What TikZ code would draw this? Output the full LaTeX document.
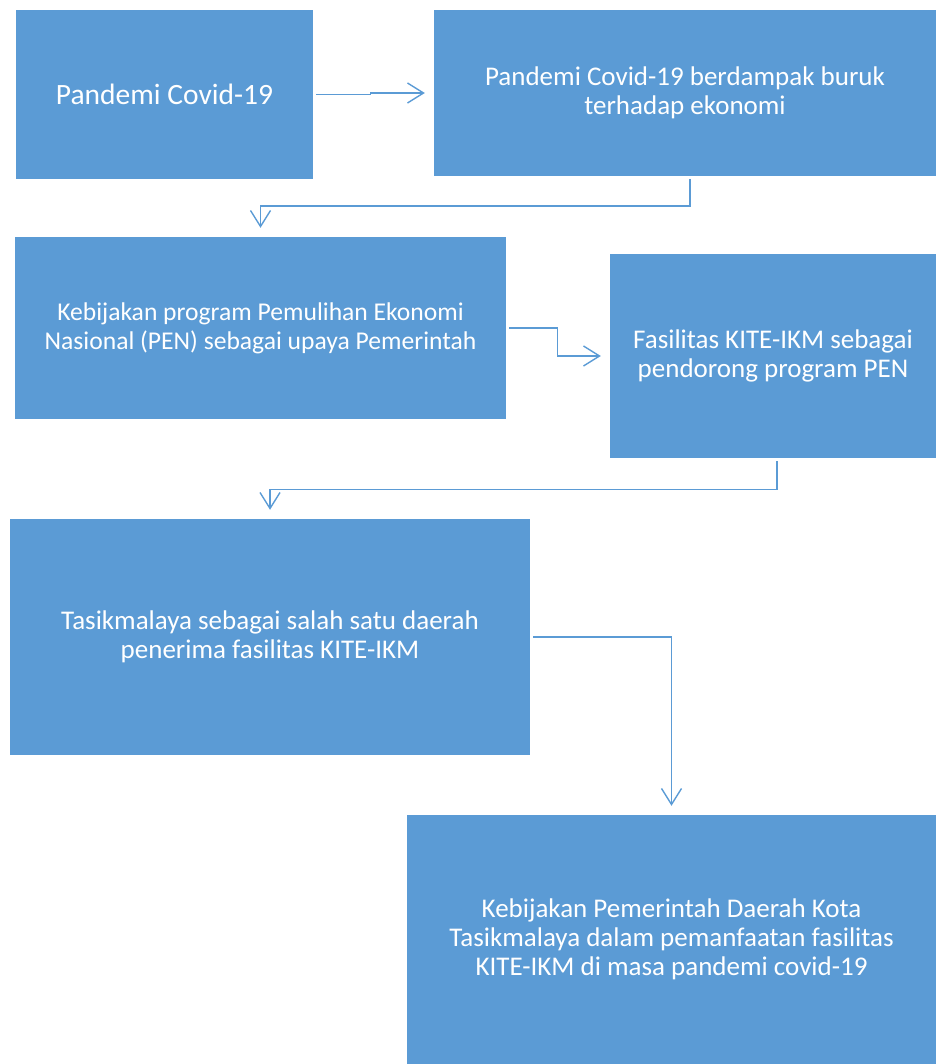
\documentclass[tikz,border=0pt]{standalone}
\usepackage{fontspec}
\setmainfont{Carlito}
\usepackage{xcolor}
\usepackage{tikz}
\usetikzlibrary{arrows.meta,positioning,calc}
\definecolor{officeblue}{RGB}{91,155,213}

\begin{document}
\begin{tikzpicture}[x=1pt, y=-1pt,
  box/.style={fill=officeblue, draw=none, text=white, align=center, inner sep=0pt,
    font=\fontsize{27}{29}\selectfont},
  link/.style={draw=officeblue, line width=1.4pt, -{Straight Barb[length=16pt,width=20pt]},
    shorten <=3pt, shorten >=9pt}]
  \useasboundingbox (0,0) rectangle (936,1064);
  % row 1
  \node[box, minimum width=297pt, minimum height=169pt, font=\fontsize{29.5}{30}\selectfont]
    (covid) at (164.5,94.5) {Pandemi Covid-19};
  \node[box, minimum width=502pt, minimum height=166pt]
    (impact) at (685,93) {Pandemi Covid-19 berdampak buruk\\terhadap ekonomi};
  % row 2
  \node[box, minimum width=491pt, minimum height=182pt, font=\fontsize{25.6}{29}\selectfont]
    (pen) at (260.5,328) {Kebijakan program Pemulihan Ekonomi\\Nasional (PEN) sebagai upaya Pemerintah};
  \node[box, minimum width=326pt, minimum height=204pt]
    (kite) at (773,356) {Fasilitas KITE-IKM sebagai\\pendorong program PEN};
  % row 3
  \node[box, minimum width=520pt, minimum height=236pt]
    (tsm) at (270,637) {Tasikmalaya sebagai salah satu daerah\\penerima fasilitas KITE-IKM};
  % row 4
  \node[box, minimum width=529pt, minimum height=249pt]
    (pemda) at (671.5,939.5) {Kebijakan Pemerintah Daerah Kota\\Tasikmalaya dalam pemanfaatan fasilitas\\KITE-IKM di masa pandemi covid-19};
  % connectors
  \draw[link] (covid.east) -- ++(57,0) |- (impact.west);
  \draw[link] ([xshift=5pt]impact.south) -- ++(0,30) -| (pen.north);
  \draw[link] (pen.east) -- ++(51,0) |- (kite.west);
  \draw[link] ([xshift=4pt]kite.south) -- ++(0,31) -| (tsm.north);
  \draw[link] (tsm.east) -| (pemda.north);
\end{tikzpicture}
\end{document}
